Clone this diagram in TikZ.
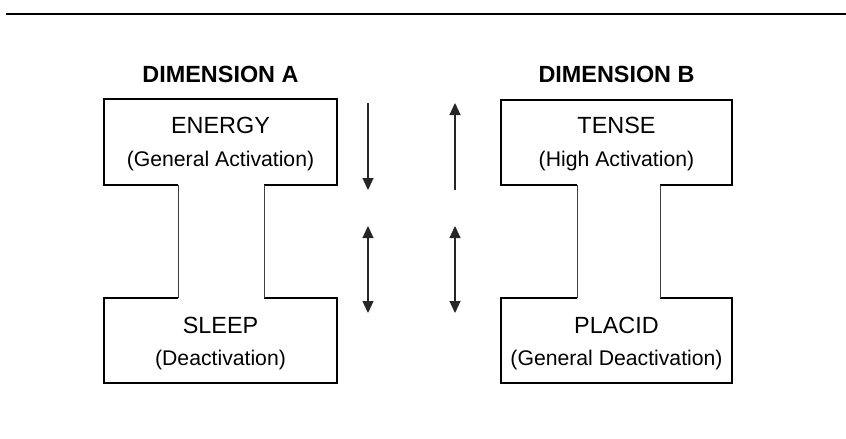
\documentclass[tikz,border=0pt]{standalone}
\usepackage{fontspec}
\setmainfont{Liberation Sans}
\usetikzlibrary{arrows.meta}
\begin{document}
\begin{tikzpicture}[x=1pt,y=-1pt,
  frame/.style={line width=1.6pt,black},
  neck/.style={line width=0.9pt,black!75},
  flow/.style={line width=1.2pt,black!85,-{Triangle[width=11pt,length=12pt]}},
  bothflow/.style={line width=1.2pt,black!85,{Triangle[width=11pt,length=12pt]}-{Triangle[width=11pt,length=12pt]}},
  head/.style={font=\fontsize{23.4}{28}\selectfont\bfseries,inner sep=0pt},
  title/.style={font=\fontsize{23.4}{28}\selectfont,inner sep=0pt},
  label/.style={font=\fontsize{21.2}{25}\selectfont,inner sep=0pt}]
\useasboundingbox (0,0) rectangle (846,439);
% top rule
\draw[line width=1.3pt] (6,14) -- (846,14);

% shape for dimension A
\coordinate (a1) at (178,185); \coordinate (a2) at (264,185);
\coordinate (a3) at (178,298); \coordinate (a4) at (264,298);
\draw[frame] (a1) -- (104,185) -- (104,99) -- (337,99) -- (337,185) -- (a2);
\draw[frame] (a3) -- (104,298) -- (104,383) -- (337,383) -- (337,298) -- (a4);
\draw[neck] (a1) -- (a3);
\draw[neck] (a2) -- (a4);

% shape for dimension B
\coordinate (b1) at (577,185); \coordinate (b2) at (660,185);
\coordinate (b3) at (577,298); \coordinate (b4) at (660,298);
\draw[frame] (b1) -- (501,185) -- (501,100) -- (732,100) -- (732,185) -- (b2);
\draw[frame] (b3) -- (501,298) -- (501,383) -- (732,383) -- (732,298) -- (b4);
\draw[neck] (b1) -- (b3);
\draw[neck] (b2) -- (b4);

% headings and labels
\node[head] (hA) at (220.5,74.5) {DIMENSION A};
\node[head] (hB) at (616.5,74.5) {DIMENSION B};
\node[title] (energy) at (220.5,125) {ENERGY};
\node[label] (genact) at (220.5,161) {(General Activation)};
\node[title] (sleep) at (220.5,325) {SLEEP};
\node[label] (deact) at (220.5,360) {(Deactivation)};
\node[title] (tense) at (616.5,125) {TENSE};
\node[label] (highact) at (616.5,161) {(High Activation)};
\node[title] (placid) at (616.5,325) {PLACID};
\node[label] (gendeact) at (616.5,360) {(General Deactivation)};

% arrows between the two dimensions
\coordinate (p1) at (368,103); \coordinate (p2) at (368,190);
\coordinate (q1) at (455,190); \coordinate (q2) at (455,103);
\coordinate (r1) at (368,226); \coordinate (r2) at (368,313);
\coordinate (s1) at (455,226); \coordinate (s2) at (455,313);
\draw[flow] (p1) -- (p2);
\draw[flow] (q1) -- (q2);
\draw[bothflow] (r1) -- (r2);
\draw[bothflow] (s1) -- (s2);
\end{tikzpicture}
\end{document}
